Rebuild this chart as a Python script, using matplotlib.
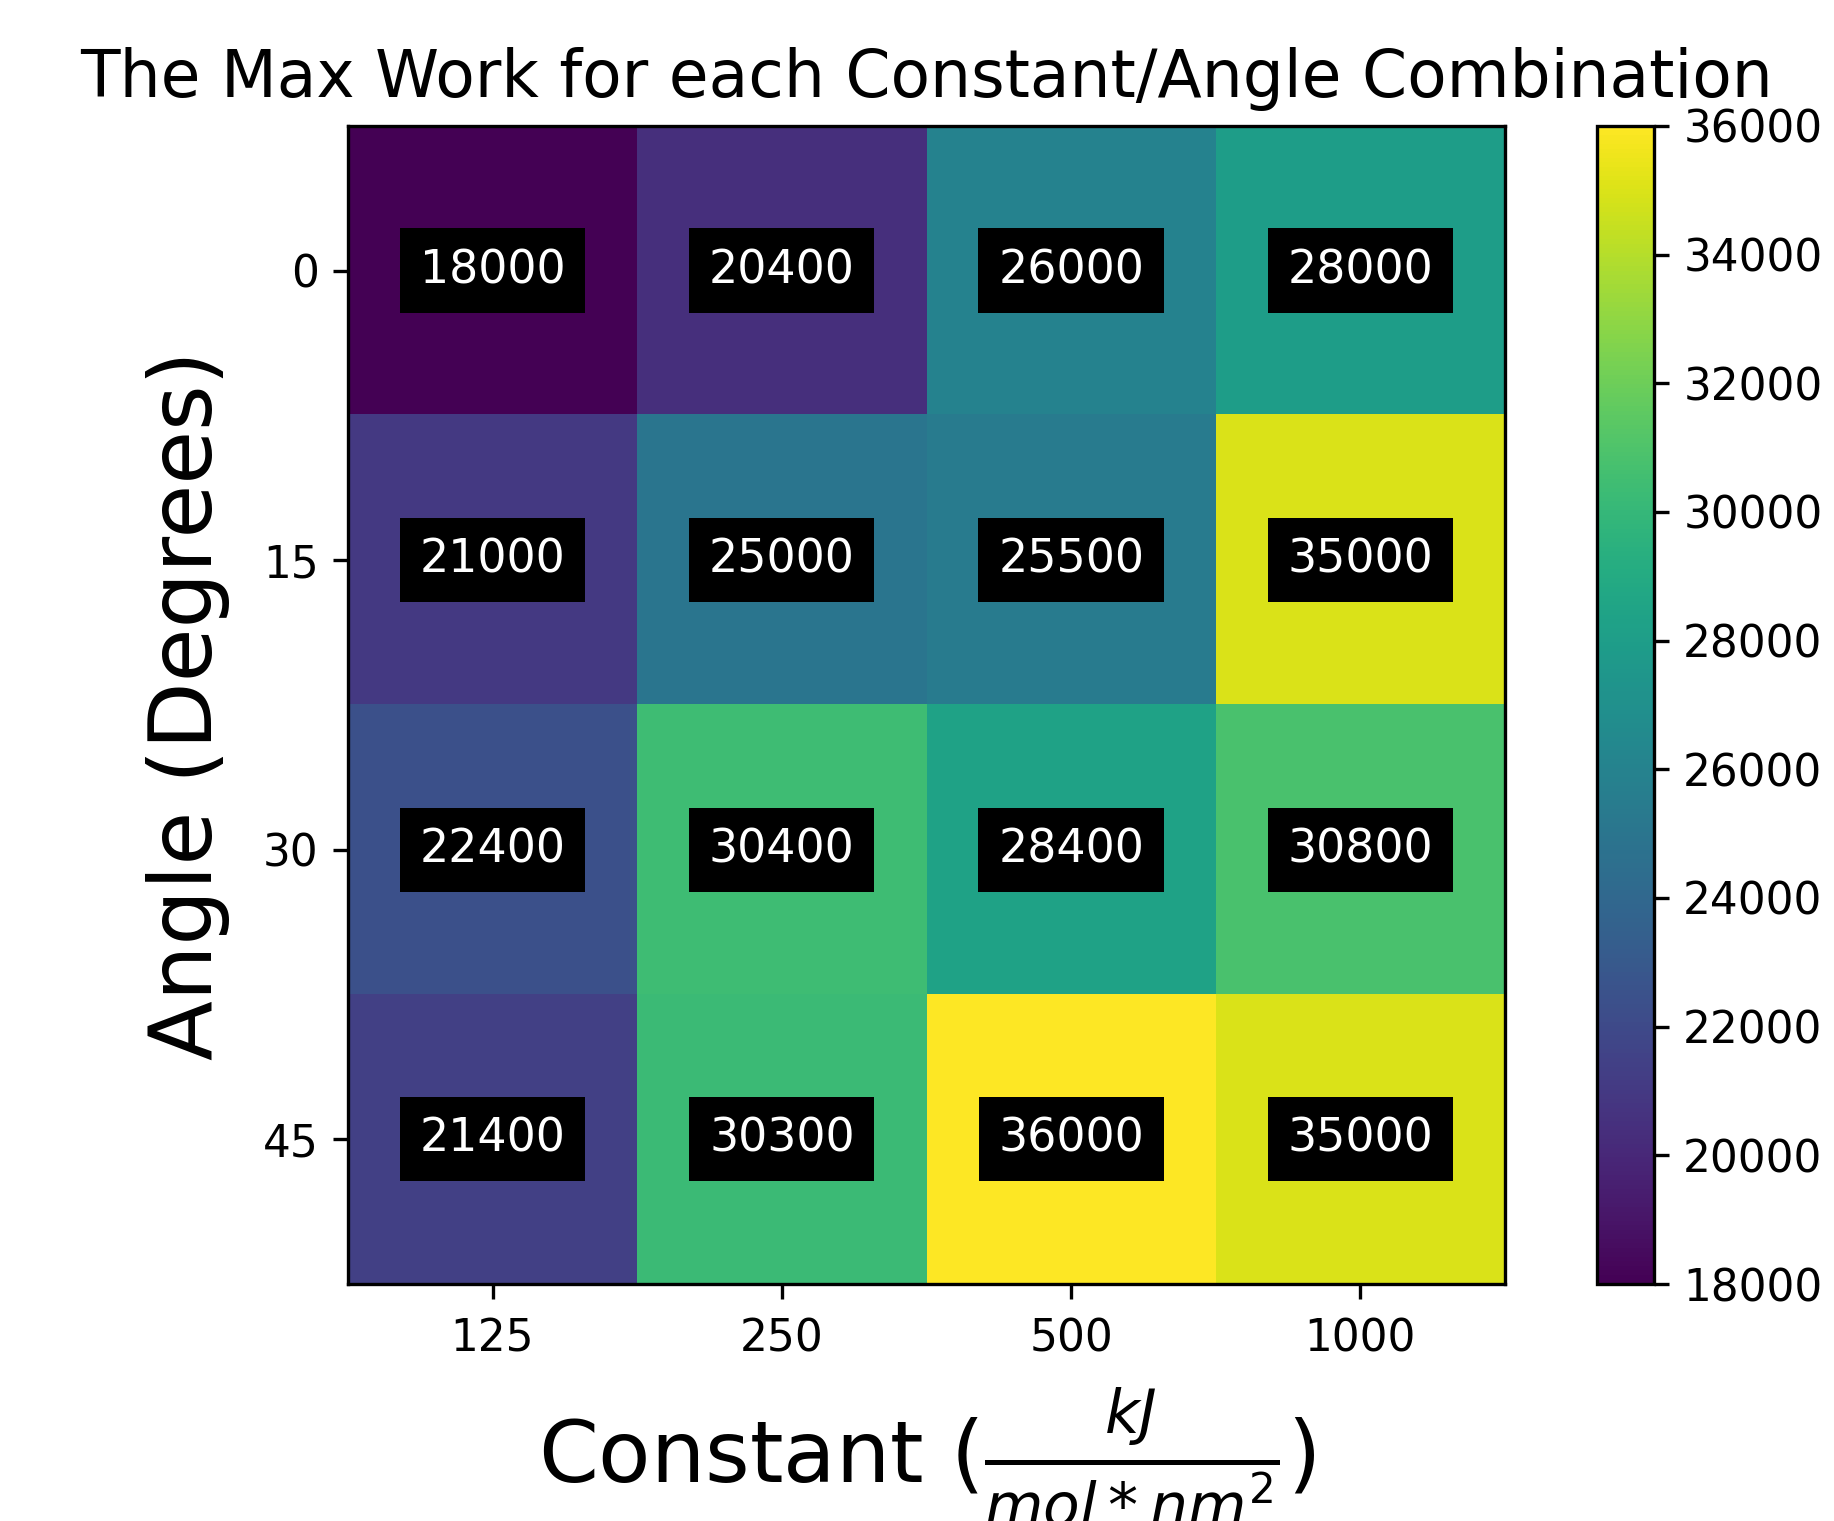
import matplotlib
matplotlib.use("Agg")
import matplotlib.pyplot as plt
import numpy as np

constants = ["125", "250", "500", "1000"]
angles = ["0", "15", "30", "45"]
max_work = [
    [18000, 20400, 26000, 28000],
    [21000, 25000, 25500, 35000],
    [22400, 30400, 28400, 30800],
    [21400, 30300, 36000, 35000],
]
cbar_ticks = [18000, 20000, 22000, 24000, 26000, 28000, 30000, 32000, 34000, 36000]

data = np.array(max_work)

fig = plt.figure(figsize=(1835 / 300, 1521 / 300), dpi=300)
ax = fig.add_axes([0.1896, 0.1558, 0.6306, 0.7614])
cax = fig.add_axes([0.8703, 0.1558, 0.0311, 0.7614])

im = ax.imshow(data, cmap="viridis", vmin=18000, vmax=36000, aspect="auto")
ax.set_xticks(range(len(constants)))
ax.set_xticklabels(constants)
ax.set_yticks(range(len(angles)))
ax.set_yticklabels(angles)
ax.tick_params(labelsize=10.5)
ax.tick_params(axis="x", pad=4.5)

for i in range(data.shape[0]):
    for j in range(data.shape[1]):
        ax.text(j, i, str(data[i, j]), ha="center", va="center", color="white",
                fontsize=11, bbox=dict(facecolor="black", edgecolor="none", pad=4.7))

ax.set_title("The Max Work for each Constant/Angle Combination", fontsize=15.5, pad=7)
ax.set_xlabel(r"Constant ($\frac{kJ}{mol*nm^2}$)", fontsize=20.6, labelpad=6)
ax.set_ylabel("Angle (Degrees)", fontsize=21, labelpad=8)

cb = fig.colorbar(im, cax=cax, ticks=cbar_ticks)
cb.ax.tick_params(labelsize=10.5)

fig.savefig("out.png", dpi=300)
